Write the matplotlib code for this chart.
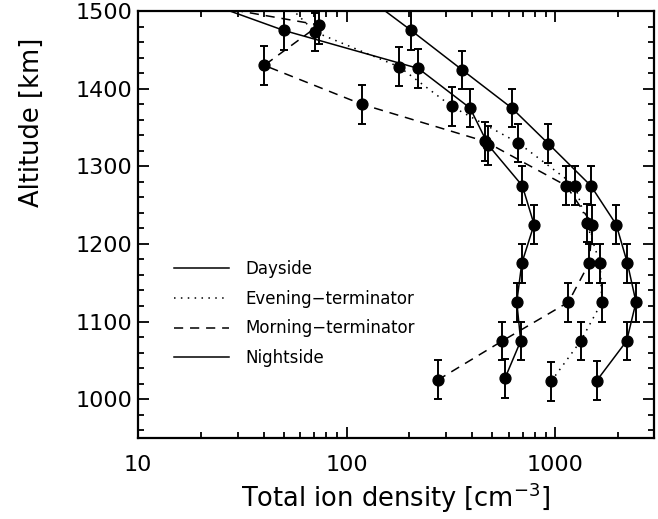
import numpy as np
import matplotlib as mpl
mpl.use('Agg')
import matplotlib.pyplot as plt
from matplotlib.ticker import MultipleLocator, LogLocator, NullFormatter

# altitude [km] and total ion density [cm^-3]
# (first point of each series sits above 1500 km and is clipped by the axes)
day_alt   = [1525, 1475, 1424, 1375, 1329, 1275, 1225, 1175, 1125, 1075, 1024]
day_den   = [115, 204, 359, 620, 929, 1483, 1963, 2223, 2443, 2203, 1585]

eve_alt   = [1525, 1473, 1428, 1377, 1330, 1275, 1227, 1175, 1125, 1075, 1023]
eve_den   = [45, 70.6, 179, 320, 667, 1247, 1415, 1643, 1676, 1327, 957]

morn_alt  = [1525, 1482, 1430, 1380, 1332, 1275, 1225, 1175, 1125, 1075, 1025]
morn_den  = [9, 74, 40.3, 118, 462, 1130, 1510, 1455, 1158, 558, 275]

night_alt = [1525, 1475, 1426, 1375, 1327, 1275, 1225, 1175, 1125, 1075, 1027]
night_den = [15.2, 50, 221, 391, 479, 696, 793, 692, 655, 684, 575]

alt_err = 25.0

series = [
  ('Dayside',             day_den,   day_alt,   '-'),
  ('Evening\u2212terminator', eve_den, eve_alt, (0, (1, 3.5))),
  ('Morning\u2212terminator', morn_den, morn_alt, (0, (6, 4.5))),
  ('Nightside',           night_den, night_alt, '-'),
]

fig = plt.figure(figsize=(6.58, 5.19), dpi=100)
ax = fig.add_axes([138/658., 1-438/519., (654-138)/658., (438-11)/519.])

for name, den, alt, ls in series:
  ax.plot(den, alt, color='k', lw=1.1, linestyle=ls, label=name)
  ax.errorbar(den, alt, yerr=alt_err, fmt='o', color='k', ms=7.8,
              elinewidth=1.4, capsize=3, capthick=1.4, linestyle='none')

ax.set_xscale('log')
ax.set_xlim(10, 2980)
ax.set_ylim(950, 1500)

ax.yaxis.set_major_locator(MultipleLocator(100))
ax.yaxis.set_minor_locator(MultipleLocator(20))
ax.xaxis.set_minor_locator(LogLocator(base=10, subs=np.arange(2, 10), numticks=20))
ax.xaxis.set_minor_formatter(NullFormatter())
ax.set_xticks([10, 100, 1000])
ax.set_xticklabels(['10', '100', '1000'])

ax.tick_params(which='both', direction='in', top=True, right=True, width=1.3,
               labelsize=16, color='k')
ax.tick_params(which='major', length=8)
ax.tick_params(which='minor', length=4)
ax.tick_params(axis='x', pad=12)
ax.tick_params(axis='y', pad=4)
for sp in ax.spines.values():
  sp.set_linewidth(1.6)

ax.set_xlabel('Total ion density [cm$^{-3}$]', fontsize=18.5)
ax.xaxis.set_label_coords(0.5, -0.1)
ax.set_ylabel('Altitude [km]', fontsize=18.5)
ax.yaxis.set_label_coords(-0.18, 0.74)

ax.legend(loc='upper left', bbox_to_anchor=(174/658., 1-260/519.),
          bbox_transform=fig.transFigure, frameon=False, fontsize=12,
          handlelength=3.3, handletextpad=1.0, labelspacing=0.7,
          borderaxespad=0, borderpad=0)

plt.savefig('out.png', dpi=100)
plt.close()
